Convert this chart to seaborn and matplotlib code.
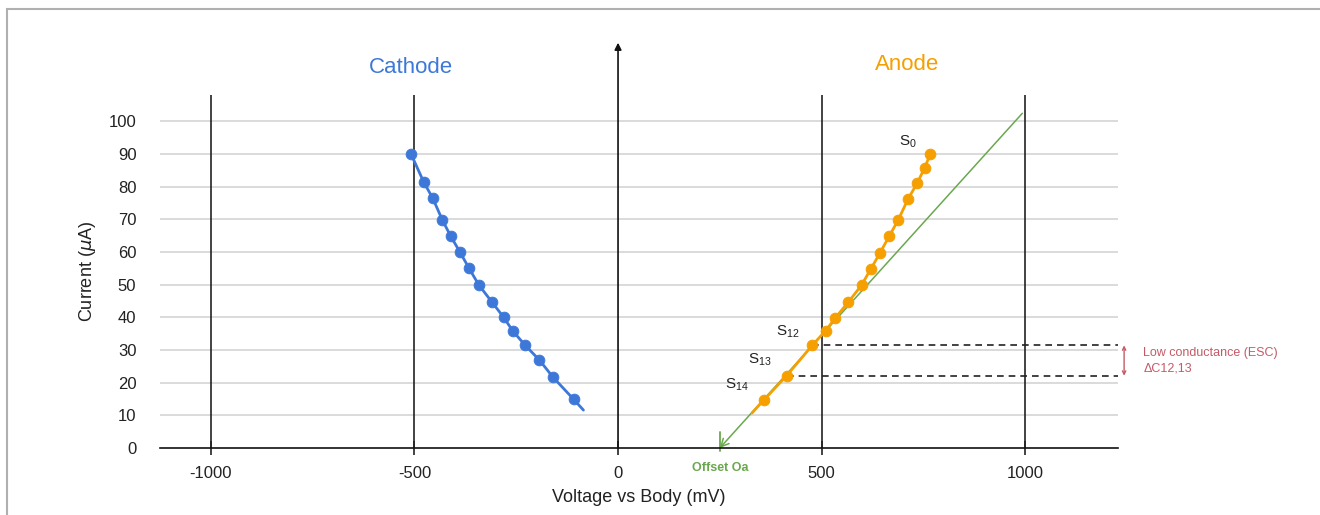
import numpy as np
import pandas as pd
import matplotlib
matplotlib.use("Agg")
import matplotlib.pyplot as plt
import seaborn as sns
from matplotlib.patches import Rectangle

# cathode curve: voltage vs body (mV) and current (uA)
cathode_v = [-509, -477, -455, -432, -411, -388, -366, -342, -310, -281, -259, -228, -193, -160, -109]
cathode_i = [90.1, 81.3, 76.4, 69.9, 64.8, 59.9, 55.0, 49.9, 44.7, 40.0, 35.9, 31.4, 26.9, 21.7, 14.9]
cathode_tail_v = [-109, -85]
cathode_tail_i = [14.9, 11.6]

# anode curve, S0 at the top down to S14
anode_v = [767, 753, 735, 712, 688, 666, 644, 621, 598, 566, 533, 510, 477, 414, 359]
anode_i = [89.9, 85.7, 81.1, 76.1, 69.7, 64.8, 59.8, 54.8, 49.8, 44.7, 39.7, 35.9, 31.4, 22.1, 14.8]
anode_tail_v = [359, 329]
anode_tail_i = [14.8, 10.7]

# green extrapolation to the offset
fit_v = [993, 250]
fit_i = [102.4, 0]
offset_oa = 250

x_ticks = [-1000, -500, 0, 500, 1000]
y_ticks = [0, 10, 20, 30, 40, 50, 60, 70, 80, 90, 100]

point_labels = ["S$_{0}$", "S$_{12}$", "S$_{13}$", "S$_{14}$"]
label_v = [712, 418, 349, 292]
label_i = [93.6, 35.5, 26.9, 19.3]

blue = "#3d78d8"
orange = "#f59f00"
green = "#6aa84f"
red = "#c45a66"

sns.set_theme(style="white")
plt.rcParams["font.family"] = ["Liberation Sans", "DejaVu Sans"]
plt.rcParams["mathtext.default"] = "regular"
plt.rcParams["axes.unicode_minus"] = False

fig = plt.figure(figsize=(13.2, 5.15), dpi=100)
ax = fig.add_axes([160 / 1320, 1 - 448 / 515, (1118 - 160) / 1320, (448 - 95) / 515])
ax.set_xlim(-1125, 1228)
ax.set_ylim(0, 108)

# grid
for y in y_ticks[1:]:
    ax.axhline(y, color="#d4d4d4", lw=1.2, zorder=0)
for x in x_ticks:
    if x != 0:
        ax.axvline(x, color="#222222", lw=1.2, zorder=1)

cath = pd.DataFrame({"v": cathode_v, "i": cathode_i})
anod = pd.DataFrame({"v": anode_v, "i": anode_i})

# green fit line + offset marker
ax.annotate("", xy=(fit_v[1], fit_i[1]), xytext=(fit_v[0], fit_i[0]),
            arrowprops=dict(arrowstyle="->", color=green, lw=1.1, shrinkA=0, shrinkB=0,
                            mutation_scale=14), zorder=2)
ax.plot([offset_oa, offset_oa], [-1, 5], color=green, lw=1.3, clip_on=False, zorder=2)

sns.lineplot(data=cath, x="v", y="i", color=blue, lw=2, sort=False, ax=ax, zorder=3)
ax.plot(cathode_tail_v, cathode_tail_i, color=blue, lw=2, zorder=3)
sns.scatterplot(data=cath, x="v", y="i", color=blue, s=60, edgecolor=blue, ax=ax, zorder=4)

sns.lineplot(data=anod, x="v", y="i", color=orange, lw=2, sort=False, ax=ax, zorder=3)
ax.plot(anode_tail_v, anode_tail_i, color=orange, lw=2, zorder=3)
sns.scatterplot(data=anod, x="v", y="i", color=orange, s=60, edgecolor=orange, ax=ax, zorder=4)

# dashed lines from S12 and S13 to the right
ax.hlines([anode_i[12], anode_i[13]], [anode_v[12], anode_v[13]], 1228,
          colors="#222222", linestyles=(0, (4, 3)), lw=1.2, zorder=2)
ax.annotate("", xy=(1243, anode_i[13]), xytext=(1243, anode_i[12]),
            arrowprops=dict(arrowstyle="<->", color=red, lw=1, mutation_scale=6,
                            shrinkA=0, shrinkB=0), annotation_clip=False)
ax.text(1290, 29.2, "Low conductance (ESC)", color=red, fontsize=9, va="center",
        ha="left", clip_on=False)
ax.text(1290, 24.3, "ΔC12,13", color=red, fontsize=9, va="center", ha="left",
        clip_on=False)

for lab, x, y in zip(point_labels, label_v, label_i):
    ax.text(x, y, lab, fontsize=11, ha="center", va="center", color="#222222")

# y axis arrow at 0 mV
ax.annotate("", xy=(0, 124), xytext=(0, 0),
            arrowprops=dict(arrowstyle="-|>", color="#111111", lw=1.2, mutation_scale=10,
                            shrinkA=0, shrinkB=0), annotation_clip=False)

ax.text(-508, 116.5, "Cathode", color=blue, fontsize=16, ha="center", va="center", clip_on=False)
ax.text(710, 117.3, "Anode", color=orange, fontsize=16, ha="center", va="center", clip_on=False)
ax.text(offset_oa, -6, "Offset Oa", color=green, fontsize=9, fontweight="bold",
        ha="center", va="center", clip_on=False)

ax.set_xticks(x_ticks)
ax.set_yticks(y_ticks)
ax.tick_params(axis="x", direction="inout", length=10, width=1.2, color="#222222",
               labelsize=12, labelcolor="#222222", pad=8, bottom=True)
ax.tick_params(axis="y", length=0, labelsize=12, labelcolor="#222222", pad=17)
ax.set_xlabel("Voltage vs Body (mV)", fontsize=13, labelpad=6, color="#222222")
ax.set_ylabel(r"Current ($\mathit{\mu}$A)", fontsize=13, labelpad=8, color="#222222")
for s in ["top", "right", "left"]:
    ax.spines[s].set_visible(False)
ax.spines["bottom"].set_color("#111111")
ax.spines["bottom"].set_linewidth(1.2)

# thin frame like the source figure
fig.patches.append(Rectangle((7 / 1320, -0.1), 1.2, 1 - 9 / 515 + 0.1, transform=fig.transFigure,
                             fill=False, edgecolor="#b0b0b0", lw=1.5))

fig.savefig("out.png", dpi=100)
